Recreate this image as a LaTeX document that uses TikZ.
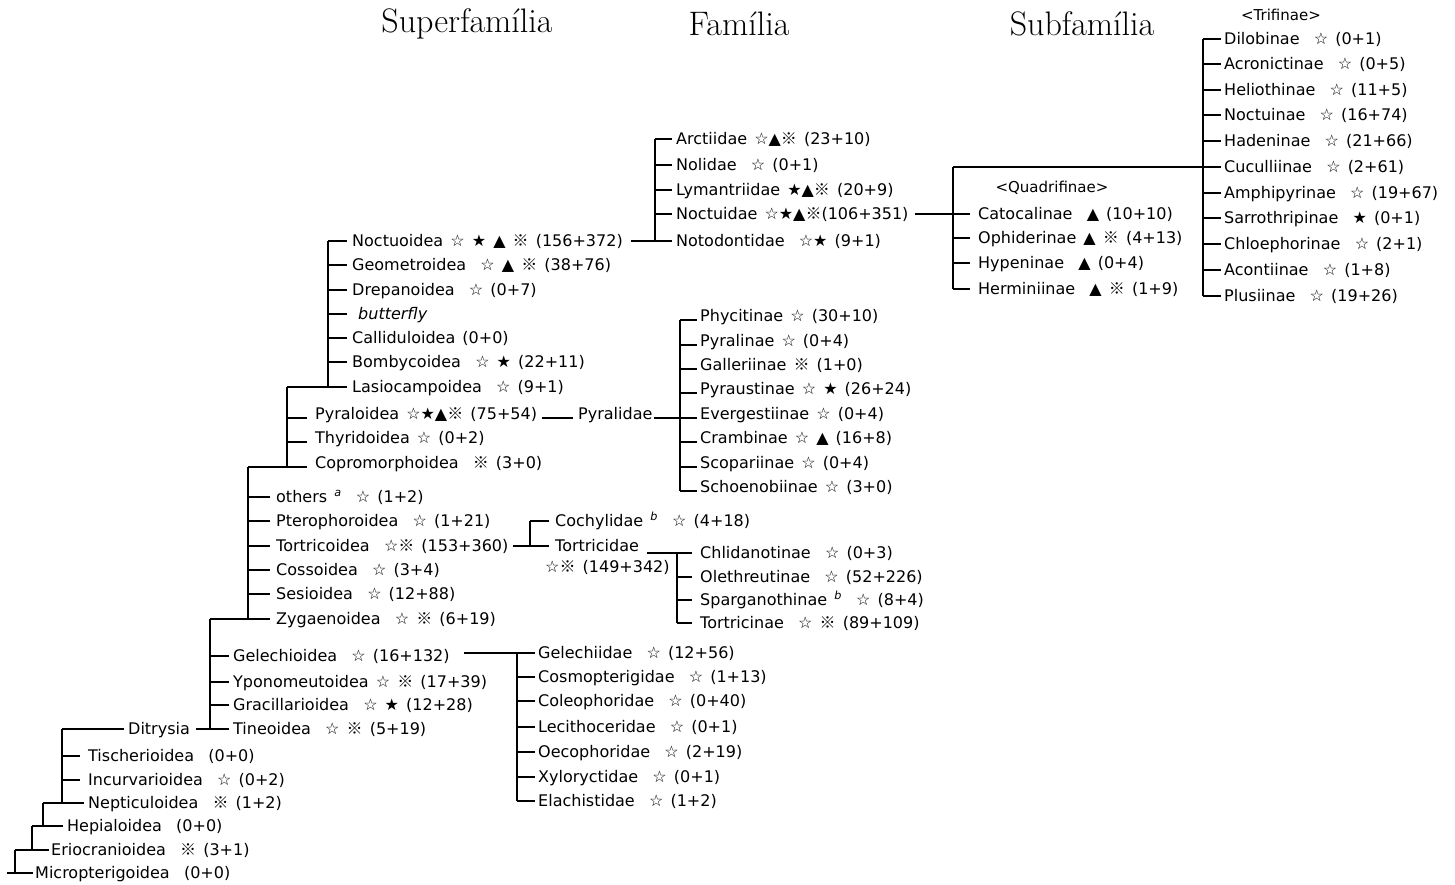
\documentclass[tikz,border=0pt]{standalone}
\usepackage{fontspec}
\newfontfamily\labfont[WordSpace=1.4]{DejaVu Sans}
\newfontfamily\cjkfont{Noto Sans CJK KR}
\newcommand\wst{☆}
\newcommand\bst{★}
\newcommand\trg{▲}
\newcommand\rfm{{\cjkfont ※}}
\begin{document}
\begin{tikzpicture}[x=1pt,y=-1pt,
  lab/.style={anchor=west,inner sep=0pt,text height=11.5pt,text depth=0pt,font=\labfont\fontsize{16}{16}\selectfont},
  labd/.style={lab,text depth=8pt},
  sm/.style={anchor=center,inner sep=0pt,font=\labfont\fontsize{15}{15}\selectfont},
  hd/.style={anchor=center,inner sep=0pt,font=\fontsize{34}{34}\selectfont},
  ln/.style={line width=1.1pt,black}]
\useasboundingbox (0,0) rectangle (1455,884);
% headers
\node[hd] (hsup) at (467,24) {Superfamília};
\node[hd] (hfam) at (739,24) {Família};
\node[hd] (hsub) at (1082,24) {Subfamília};
% vertical positions of brackets
\coordinate (vtri) at (1203,0);
\coordinate (vquad) at (953,0);
\coordinate (vfn) at (655,0);
\coordinate (vsn) at (328,0);
\coordinate (vpyr) at (287,0);
\coordinate (vpd) at (680,0);
\coordinate (voth) at (248,0);
\coordinate (vtf) at (530,0);
\coordinate (vts) at (677,0);
\coordinate (vgel) at (210,0);
\coordinate (vgf) at (517,0);
\coordinate (vdit) at (62,0);
\coordinate (vhep) at (43,0);
\coordinate (verio) at (32,0);
\coordinate (vmic) at (15,0);
\coordinate (vroot) at (7,0);
% Trifinae
\node[sm] (trif) at (1281,15) {<Trifinae>};
\node[lab] (dilo) at (1224,39) {Dilobinae \ \wst\ (0+1)};
\node[lab] (acro) at (1224,64) {Acronictinae \ \wst\ (0+5)};
\node[lab] (helio) at (1224,90) {Heliothinae \ \wst\ (11+5)};
\node[lab] (noctn) at (1224,115) {Noctuinae \ \wst\ (16+74)};
\node[lab] (haden) at (1224,141) {Hadeninae \ \wst\ (21+66)};
\node[lab] (cucul) at (1224,167) {Cuculliinae \ \wst\ (2+61)};
\node[lab] (amphi) at (1224,193) {Amphipyrinae \ \wst\ (19+67)};
\node[lab] (sarro) at (1224,218) {Sarrothripinae \ \bst\ (0+1)};
\node[lab] (chloe) at (1224,244) {Chloephorinae \ \wst\ (2+1)};
\node[lab] (aconti) at (1224,270) {Acontiinae \ \wst\ (1+8)};
\node[lab] (plusi) at (1224,296) {Plusiinae \ \wst\ (19+26)};
% Quadrifinae
\node[sm] (quad) at (1052,188) {<Quadrifinae>};
\node[lab] (cato) at (978,214) {Catocalinae \ \trg\ (10+10)};
\node[lab] (ophi) at (978,238) {Ophiderinae \trg\ \rfm\ (4+13)};
\node[lab] (hype) at (978,263) {Hypeninae \ \trg\ (0+4)};
\node[lab] (hermi) at (978,289) {Herminiinae \ \trg\ \rfm\ (1+9)};
% Noctuoidea families
\node[lab] (arct) at (676,139) {Arctiidae \wst\trg\rfm\ (23+10)};
\node[lab] (noli) at (676,165) {Nolidae \ \wst\ (0+1)};
\node[lab] (lyma) at (676,190) {Lymantriidae \bst\trg\rfm\ (20+9)};
\node[lab] (noctd) at (676,214) {Noctuidae \wst\bst\trg\rfm(106+351)};
\node[lab] (noto) at (676,241) {Notodontidae \ \wst\bst\ (9+1)};
% superfamilies upper
\node[lab] (noctuo) at (352,241) {Noctuoidea \wst\ \bst\ \trg\ \rfm\ (156+372)};
\node[lab] (geom) at (352,265) {Geometroidea \ \wst\ \trg\ \rfm\ (38+76)};
\node[lab] (drep) at (352,290) {Drepanoidea \ \wst\ (0+7)};
\node[lab] (butt) at (358,314) {\textit{butterfly}};
\node[lab] (calli) at (352,338) {Calliduloidea (0+0)};
\node[lab] (bomb) at (352,362) {Bombycoidea \ \wst\ \bst\ (22+11)};
\node[lab] (lasio) at (352,387) {Lasiocampoidea \ \wst\ (9+1)};
% Pyraloidea block
\node[labd] (pyra) at (315,418) {Pyraloidea \wst\bst\trg\rfm\ (75+54)};
\node[labd] (thyr) at (315,442) {Thyridoidea \wst\ (0+2)};
\node[labd] (copro) at (315,467) {Copromorphoidea \ \rfm\ (3+0)};
\node[labd] (pyrd) at (578,418) {Pyralidae};
% Pyralidae subfamilies
\node[labd] (phyc) at (700,320) {Phycitinae \wst\ (30+10)};
\node[labd] (pyrl) at (700,345) {Pyralinae \wst\ (0+4)};
\node[labd] (gall) at (700,369) {Galleriinae \rfm\ (1+0)};
\node[labd] (pyrau) at (700,393) {Pyraustinae \wst\ \bst\ (26+24)};
\node[labd] (everg) at (700,418) {Evergestiinae \wst\ (0+4)};
\node[labd] (cramb) at (700,442) {Crambinae \wst\ \trg\ (16+8)};
\node[labd] (scop) at (700,467) {Scopariinae \wst\ (0+4)};
\node[labd] (schoe) at (700,491) {Schoenobiinae \wst\ (3+0)};
% others block
\node[lab] (oth) at (276,497) {others \textsuperscript{\textit{a}} \ \wst\ (1+2)};
\node[lab] (ptero) at (276,521) {Pterophoroidea \ \wst\ (1+21)};
\node[lab] (tortoid) at (276,546) {Tortricoidea \ \wst\rfm\ (153+360)};
\node[lab] (cosso) at (276,570) {Cossoidea \ \wst\ (3+4)};
\node[lab] (sesio) at (276,594) {Sesioidea \ \wst\ (12+88)};
\node[lab] (zyga) at (276,619) {Zygaenoidea \ \wst\ \rfm\ (6+19)};
% Tortricoidea families
\node[lab] (cochy) at (555,521) {Cochylidae \textsuperscript{\textit{b}} \ \wst\ (4+18)};
\node[lab] (tortd) at (555,546) {Tortricidae};
\node[lab] (tortdn) at (545,567) {\wst\rfm\ (149+342)};
\node[lab] (chlid) at (700,553) {Chlidanotinae \ \wst\ (0+3)};
\node[lab] (oleth) at (700,577) {Olethreutinae \ \wst\ (52+226)};
\node[lab] (sparg) at (700,600) {Sparganothinae \textsuperscript{\textit{b}} \ \wst\ (8+4)};
\node[lab] (tortn) at (700,623) {Tortricinae \ \wst\ \rfm\ (89+109)};
% Gelechioidea block
\node[lab] (gele) at (233,656) {Gelechioidea \ \wst\ (16+132)};
\node[lab] (ypon) at (233,682) {Yponomeutoidea \wst\ \rfm\ (17+39)};
\node[lab] (graci) at (233,705) {Gracillarioidea \ \wst\ \bst\ (12+28)};
\node[lab] (tineo) at (233,729) {Tineoidea \ \wst\ \rfm\ (5+19)};
\node[lab] (gelid) at (538,653) {Gelechiidae \ \wst\ (12+56)};
\node[lab] (cosmo) at (538,677) {Cosmopterigidae \ \wst\ (1+13)};
\node[lab] (coleo) at (538,701) {Coleophoridae \ \wst\ (0+40)};
\node[lab] (leci) at (538,727) {Lecithoceridae \ \wst\ (0+1)};
\node[lab] (oeco) at (538,752) {Oecophoridae \ \wst\ (2+19)};
\node[lab] (xylo) at (538,777) {Xyloryctidae \ \wst\ (0+1)};
\node[lab] (elach) at (538,801) {Elachistidae \ \wst\ (1+2)};
% lower superfamilies
\node[lab] (ditr) at (128,729) {Ditrysia};
\node[lab] (tisch) at (88,756) {Tischerioidea \ (0+0)};
\node[lab] (incur) at (88,780) {Incurvarioidea \ \wst\ (0+2)};
\node[lab] (neptic) at (88,803) {Nepticuloidea \ \rfm\ (1+2)};
\node[lab] (hepi) at (67,826) {Hepialoidea \ (0+0)};
\node[lab] (erio) at (51,850) {Eriocranioidea \ \rfm\ (3+1)};
\node[lab] (micro) at (35,873) {Micropterigoidea \ (0+0)};
% ===== connectors =====
% Trifinae
\draw[ln] (vtri |- dilo.west) -- (vtri |- plusi.west);
\foreach \n in {dilo,acro,helio,noctn,haden,cucul,amphi,sarro,chloe,aconti,plusi}
  \draw[ln] (vtri |- \n.west) -- ([xshift=-3pt]\n.west);
\draw[ln] (vquad |- cucul.west) -- (vtri |- cucul.west);
% Quadrifinae
\draw[ln] (vquad |- cucul.west) -- (vquad |- hermi.west);
\foreach \n in {cato,ophi,hype,hermi}
  \draw[ln] (vquad |- \n.west) -- ([xshift=-8pt]\n.west);
\draw[ln] ([xshift=6pt]noctd.east) -- (vquad |- noctd.east);
% Noctuoidea families
\draw[ln] (vfn |- arct.west) -- (vfn |- noto.west);
\foreach \n in {arct,noli,lyma,noctd,noto}
  \draw[ln] (vfn |- \n.west) -- ([xshift=-4pt]\n.west);
\draw[ln] ([xshift=8pt]noctuo.east) -- (vfn |- noctuo.east);
% upper superfamilies
\draw[ln] (vsn |- noctuo.west) -- (vsn |- lasio.west);
\foreach \n in {noctuo,geom,drep,calli,bomb}
  \draw[ln] (vsn |- \n.west) -- ([xshift=-5pt]\n.west);
\draw[ln] (vsn |- butt.west) -- ([xshift=-11pt]butt.west);
\draw[ln] (vpyr |- lasio.west) -- ([xshift=-5pt]lasio.west);
% Pyraloidea block
\draw[ln] (vpyr |- lasio.west) -- (vpyr |- copro.west);
\foreach \n in {pyra,thyr}
  \draw[ln] (vpyr |- \n.west) -- ([xshift=-8pt]\n.west);
\draw[ln] (voth |- copro.west) -- ([xshift=-8pt]copro.west);
% Pyralidae
\draw[ln] ([xshift=5pt]pyra.east) -- ([xshift=-5pt]pyrd.west);
\draw[ln] ([xshift=1pt]pyrd.east) -- (vpd |- pyrd.east);
\draw[ln] (vpd |- phyc.west) -- (vpd |- schoe.west);
\foreach \n in {phyc,pyrl,gall,pyrau,everg,cramb,scop,schoe}
  \draw[ln] (vpd |- \n.west) -- ([xshift=-3pt]\n.west);
% others block
\draw[ln] (voth |- copro.west) -- (voth |- zyga.west);
\foreach \n in {oth,ptero,tortoid,cosso,sesio}
  \draw[ln] (voth |- \n.west) -- ([xshift=-6pt]\n.west);
\draw[ln] (vgel |- zyga.west) -- ([xshift=-6pt]zyga.west);
% Tortricoidea
\draw[ln] ([xshift=4pt]tortoid.east) -- (vtf |- tortoid.east);
\draw[ln] (vtf |- cochy.west) -- (vtf |- tortd.west);
\foreach \n in {cochy,tortd}
  \draw[ln] (vtf |- \n.west) -- ([xshift=-6pt]\n.west);
\path ([xshift=8pt]tortd.east) coordinate (tdE);
\draw[ln] (tdE |- chlid.west) -- (vts |- chlid.west);
\draw[ln] (vts |- chlid.west) -- (vts |- tortn.west);
\foreach \n in {chlid,oleth,sparg,tortn}
  \draw[ln] (vts |- \n.west) -- ([xshift=-8pt]\n.west);
% Gelechioidea block
\draw[ln] (vgel |- zyga.west) -- (vgel |- tineo.west);
\foreach \n in {gele,ypon,graci}
  \draw[ln] (vgel |- \n.west) -- ([xshift=-4pt]\n.west);
\draw[ln] ([xshift=6pt]ditr.east) -- ([xshift=-4pt]tineo.west);
\path ([xshift=14pt]gele.east) coordinate (geE);
\draw[ln] (geE |- gelid.west) -- ([xshift=-3pt]gelid.west);
\draw[ln] (vgf |- gelid.west) -- (vgf |- elach.west);
\foreach \n in {cosmo,coleo,leci,oeco,xylo,elach}
  \draw[ln] (vgf |- \n.west) -- ([xshift=-3pt]\n.west);
% lower ladder
\draw[ln] (vdit |- ditr.west) -- ([xshift=-4pt]ditr.west);
\draw[ln] (vdit |- ditr.west) -- (vdit |- neptic.west);
\foreach \n in {tisch,incur}
  \draw[ln] (vdit |- \n.west) -- ([xshift=-8pt]\n.west);
\draw[ln] (vhep |- neptic.west) -- ([xshift=-4pt]neptic.west);
\draw[ln] (vhep |- neptic.west) -- (vhep |- hepi.west);
\draw[ln] (verio |- hepi.west) -- ([xshift=-4pt]hepi.west);
\draw[ln] (verio |- hepi.west) -- (verio |- erio.west);
\draw[ln] (vmic |- erio.west) -- ([xshift=-2pt]erio.west);
\draw[ln] (vmic |- erio.west) -- (vmic |- micro.west);
\draw[ln] (vroot |- micro.west) -- ([xshift=-2pt]micro.west);
\end{tikzpicture}
\end{document}
